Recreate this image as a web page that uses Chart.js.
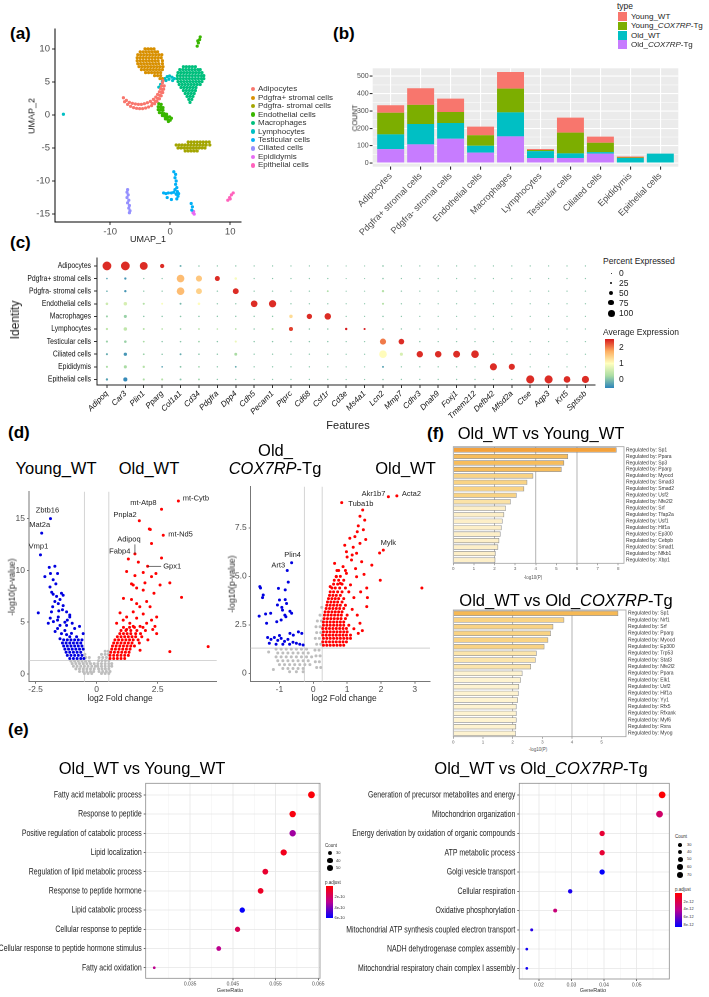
<!DOCTYPE html>
<html>
<head>
<meta charset="utf-8">
<script src="https://cdn.jsdelivr.net/npm/chart.js@4.4.1/dist/chart.umd.min.js"></script>
<style>
  html, body { margin: 0; padding: 0; background: #fff; }
  #fig { position: relative; width: 709px; height: 997px; overflow: hidden; font-family: "Liberation Sans", Arial, sans-serif; color: #000; }
  #fig canvas { position: absolute; }
  .t { position: absolute; white-space: nowrap; line-height: 1; }
</style>
</head>
<body>
<div id="fig"></div>
<script>
// ---- (a) UMAP ----
const clusterNames = ['Adipocytes', 'Pdgfra+ stromal cells', 'Pdgfra- stromal cells', 'Endothelial cells', 'Macrophages',
  'Lymphocytes', 'Testicular cells', 'Ciliated cells', 'Epididymis', 'Epithelial cells'];

const umapAdipocytes = [[-7.8,2.6],[-7.3,2.2],[-6.8,1.9],[-6.3,1.75],[-5.8,1.65],[-5.3,1.6],[-4.8,1.6],[-4.3,1.7],[-3.8,1.85],
  [-3.3,2.05],[-2.8,2.35],[-2.4,2.7],[-2.1,3.1],[-1.8,3.5],[-1.6,3.95],[-1.45,4.4],[-1.3,4.85],[-1.2,5.2],
  [-7.6,2.0],[-7.1,1.6],[-6.6,1.3],[-6.1,1.1],[-5.6,1.0],[-5.1,0.95],[-4.6,0.95],[-4.1,1.05],[-3.6,1.2],[-3.1,1.4],
  [-2.6,1.7],[-2.2,2.05],[-1.8,2.45],[-1.5,2.9],[-1.25,3.4],[-1.1,3.9],[-1.0,4.4],
  [-3.0,1.75],[-2.5,2.1],[-2.1,2.5],[-1.75,2.95],[-1.45,3.4],[-1.3,3.85]];
const umapPdgfraPosRows = [
  [10.0, [-4.2,-3.7,-3.2,-2.7]],
  [9.55, [-5.0,-4.5,-4.0,-3.5,-3.0,-2.5,-2.1]],
  [9.1, [-5.4,-4.9,-4.4,-3.9,-3.4,-2.9,-2.4,-1.9,-1.4]],
  [8.65, [-5.5,-5.0,-4.5,-4.0,-3.5,-3.0,-2.5,-2.0,-1.5]],
  [8.2, [-5.5,-5.0,-4.5,-4.0,-3.5,-3.0,-2.5,-2.0,-1.3]],
  [7.75, [-5.4,-4.9,-4.4,-3.9,-3.4,-2.9,-2.4,-1.9,-1.3]],
  [7.3, [-5.2,-4.7,-4.2,-3.7,-3.2,-2.7,-2.2,-1.7,-1.2]],
  [6.85, [-4.8,-4.3,-3.8,-3.3,-2.8,-2.3,-1.8,-1.3]],
  [6.4, [-4.1,-3.6,-3.1,-2.6,-2.1,-1.6]],
  [5.95, [-2.6,-2.1,-1.6]],
  [5.5, [-1.7,-1.3]]];
const umapPdgfraNegRows = [
  [-4.1, [3.0,3.5,4.0,4.5,5.0,5.5,6.0,6.5]],
  [-4.55, [1.0,1.5,2.0,2.5,3.0,3.5,4.0,4.5,5.0,5.5,6.0,6.6]],
  [-5.0, [1.3,1.8,2.3,2.8,3.3,3.8,4.3,4.8,5.3,5.8]],
  [-5.45, [2.5,3.0,3.5,4.0,4.5]]];
const umapEndothelial = [[-1.9,1.7],[-1.5,1.6],[-2.0,1.25],[-1.6,1.2],[-1.2,1.1],[-2.0,0.8],[-1.6,0.8],[-1.2,0.7],
  [-1.8,0.35],[-1.4,0.3],[-1.0,0.2],[-0.6,0.1],[-1.3,-0.1],[-0.9,-0.2],[-0.5,-0.3],[-0.1,-0.3],[-0.8,-0.6],[-0.4,-0.7],
  [0.0,-0.8],[0.2,-0.5],[-0.3,-1.0],[4.5,10.4],[4.7,10.9],[4.9,11.4],[5.0,11.8],[4.6,11.2]];
const umapMacrophageRows = [
  [7.3, [2.2,2.7,3.2,3.7,4.2]],
  [6.85, [1.6,2.1,2.6,3.1,3.6,4.1,4.6,5.0]],
  [6.4, [1.3,1.8,2.3,2.8,3.3,3.8,4.3,4.8,5.3]],
  [5.95, [1.2,1.7,2.2,2.7,3.2,3.7,4.2,4.7,5.2,5.6]],
  [5.5, [1.2,1.7,2.2,2.7,3.2,3.7,4.2,4.7,5.2,5.6]],
  [5.05, [1.3,1.8,2.3,2.8,3.3,3.8,4.3,4.8,5.3]],
  [4.6, [1.5,2.0,2.5,3.0,3.5,4.0,4.5,5.0]],
  [4.15, [1.8,2.3,2.8,3.3,3.8,4.3]],
  [3.7, [2.2,2.7,3.2,3.7,4.2]],
  [3.25, [2.5,3.0,3.5,4.0]],
  [2.8, [2.8,3.3,3.8]],
  [2.35, [3.1,3.6]],
  [1.9, [3.3]]];
const umapLymphocytes = [[-1.3,5.1],[-0.9,5.5],[-0.5,5.8],[-0.1,5.9],[0.3,5.7],[0.7,5.5],[-0.7,5.2],[-0.2,5.4],[0.4,5.2],
  [-1.9,4.2],[-1.6,4.6],[-17.8,0.1]];
const umapTesticular = [[0.6,-8.6],[0.9,-9.0],[0.8,-9.5],[1.0,-10.0],[0.9,-10.5],[1.1,-11.0],[0.8,-11.3],[1.2,-11.6],
  [1.0,-12.0],[1.3,-12.3],[1.1,-12.7],[0.6,-11.7],[0.2,-11.8],[-0.3,-11.8],[-0.7,-11.9],[-1.1,-11.8],[1.4,-11.9],
  [3.5,-13.4],[3.7,-13.9],[3.6,-14.4],[-0.5,-12.5],[0.2,-12.8]];
const umapCiliated = [[-7.1,-11.3],[-7.2,-11.7],[-7.0,-12.1],[-7.2,-12.5],[-6.9,-12.9],[-7.1,-13.3],[-6.8,-13.7],
  [-6.9,-14.1],[-6.7,-14.5],[-6.8,-14.8]];
const umapEpididymis = [[3.8,-14.8],[4.0,-15.0],[3.9,-14.6]];
const umapEpithelial = [[9.6,-12.9],[9.9,-12.5],[10.2,-12.1],[10.5,-11.8],[10.0,-12.7]];

// ---- (b) cell counts per type ----
const countOldCox = [80, 108, 140, 60, 154, 29, 29, 54, 3, 0];
const countOldWT = [85, 117, 91, 40, 138, 40, 27, 9, 26, 54];
const countYoungCox = [125, 110, 63, 60, 137, 6, 119, 54, 3, 0];
const countYoungWT = [43, 96, 77, 50, 96, 6, 87, 35, 6, 0];
const countTicks = [0, 100, 200, 300, 400, 500];

// ---- (c) dot plot ----
const dotGenes = ['Adipoq','Car3','Plin1','Pparg','Col1a1','Cd34','Pdgfra','Dpp4','Cdh5','Pecam1','Ptprc','Cd68','Csf1r',
  'Cd3e','Ms4a1','Lcn2','Mmp7','Cdhr3','Dnah9','Foxj1','Tmem212','Defb42','Mfsd2a','Ctse','Aqp3','Krt5','Sptssb'];
const dotPct = [
  [100,100,88,40,10,4,2,3,1,1,1,1,1,0,0,6,1,1,1,1,1,1,1,1,1,1,1],
  [6,15,3,2,85,65,50,18,2,2,2,2,3,0,0,5,2,1,1,1,1,1,1,1,1,1,1],
  [5,15,3,2,85,62,3,62,2,2,2,2,8,0,0,15,2,1,1,1,1,1,1,1,1,1,1],
  [18,30,12,10,10,18,3,3,72,80,3,2,3,0,0,12,2,1,1,1,1,1,1,1,1,1,1],
  [12,25,5,4,6,5,3,3,3,3,30,55,70,2,1,5,2,1,1,1,1,1,1,1,1,1,1],
  [15,30,10,6,6,8,5,6,4,10,38,4,4,16,12,5,3,1,1,1,1,1,1,1,1,1,1],
  [12,18,8,3,5,6,3,12,3,3,3,3,3,2,1,65,58,3,2,2,2,2,2,1,1,1,1],
  [12,28,8,4,10,5,3,22,2,2,2,2,2,1,1,85,25,68,70,75,85,2,2,1,1,1,1],
  [12,25,15,6,8,6,3,8,2,2,2,2,2,1,1,10,2,2,2,2,2,78,65,1,1,1,1],
  [15,38,12,12,10,8,3,3,2,2,2,2,2,1,1,4,2,2,2,2,2,2,2,90,90,72,78]];
const dotAvg = [
  [2.4,2.4,2.4,2.4,-0.2,0,0,0,0,0,0,0,0,0,0,0,0,0,0,0,0,0,0,0,0,0,0],
  [-0.3,-0.4,0,0,1.6,1.5,2.4,0.9,0,0,0,0,0,0,0,0,0,0,0,0,0,0,0,0,0,0,0],
  [-0.2,-0.4,0,0,1.6,1.4,0,2.4,0,0,0,0,0.2,0,0,0.3,0,0,0,0,0,0,0,0,0,0,0],
  [0.5,0.6,0.3,0.9,-0.1,1.0,0,0,2.4,2.4,0,0,0,0,0,0.3,0,0,0,0,0,0,0,0,0,0,0],
  [0.1,0.1,0,0,0,0,0,0,0,0,1.3,2.4,2.4,0,0,0,0,0,0,0,0,0,0,0,0,0,0],
  [0.4,0.4,0.3,0.3,0.1,0.3,0.3,0.3,0,0.3,2.3,0,0,2.5,2.5,0,0,0,0,0,0,0,0,0,0,0,0],
  [0.1,0.1,0.2,0,0,0.1,0,0.8,0,0,0,0,0,0,0,2.0,2.4,0,0,0,0,0,0,0,0,0,0],
  [-0.2,-0.4,0.1,0,-0.2,0,0,0.2,0,0,0,0,0,0,0,1.0,0.6,2.4,2.4,2.4,2.4,0,0,0,0,0,0],
  [0.2,0.2,0.3,-0.3,0,0.1,0,-0.2,0,0,0,0,0,0,0,-0.3,0,0,0,0,0,2.4,2.4,0,0,0,0],
  [-0.3,-0.5,0.2,0.3,0.0,0.1,0,0,0,0,0,0,0,0,0,0,0,0,0,0,0,0,0,2.4,2.4,2.4,2.4]];

// ---- (d) volcano: Old_WT vs Young_WT ----
const volcYoungBlue = [[-1.89,15.0],[-2.25,13.6],[-2.3,11.5],[-1.94,10.3],[-1.71,10.4],[-2.12,9.4],[-1.89,9.7],[-1.6,9.7],
  [-1.78,9.1],[-1.67,8.7],[-1.91,8.4],[-1.84,7.9],[-1.44,7.8],[-1.78,7.7],[-1.64,7.5],[-1.5,7.2],[-1.37,7.6],[-1.71,7.0],
  [-1.57,6.8],[-1.8,6.5],[-1.37,6.6],[-2.39,5.9],[-1.23,6.0],[-1.1,5.5],[-1.98,4.9],[-1.77,5.06],[-1.57,5.5],[-1.5,4.7],
  [-1.23,4.7],[-1.1,5.7],[-1.7,4.1],[-1.44,3.9],[-1.23,3.8],[-1.03,3.93],[-0.82,3.6],[-0.55,3.9],[-1.6,4.4],[-1.3,4.2],
  [-0.9,4.4],[-1.1,3.6],[-1.5,3.4],[-0.7,4.6],[-1.9,5.4],[-1.4,6.2],[-1.2,5.2],[-1.85,6.0],[-1.55,6.1],[-1.3,5.0],[-1.0,4.9],[-1.6,5.2]];
const volcYoungBlueRows = [
  [3.3, [-1.35,-1.2,-1.05,-0.9,-0.75,-0.6]], [3.0, [-1.4,-1.25,-1.1,-0.95,-0.8,-0.65]],
  [2.7, [-1.35,-1.2,-1.05,-0.9,-0.75,-0.6]], [2.4, [-1.3,-1.15,-1.0,-0.85,-0.7,-0.55]],
  [2.1, [-1.25,-1.1,-0.95,-0.8,-0.65]], [1.8, [-1.2,-1.05,-0.9,-0.75,-0.6]], [1.5, [-1.1,-0.95,-0.8,-0.65,-0.52]]];
const volcYoungRed = [[3.35,16.7],[2.66,15.9],[1.75,14.8],[2.73,13.4],[1.57,11.6],[1.3,11.1],[2.09,10.4],[2.16,14.0],
  [2.2,13.95],[2.25,12.6],[2.66,11.2],[1.71,10.8],[1.23,9.9],[1.57,9.5],[1.91,9.8],[2.25,9.4],[2.43,9.7],[3.0,8.8],[1.43,8.7],
  [1.64,8.3],[1.91,8.1],[3.48,7.4],[2.05,7.0],[2.35,7.8],[2.6,8.6],[1.1,7.3],[1.43,7.2],[1.77,6.5],[0.96,5.9],[1.5,6.0],
  [1.91,5.8],[1.23,5.5],[1.64,6.8],[2.19,6.5],[2.46,5.5],[1.78,2.3],[3.0,2.16],[4.57,2.65],[1.98,8.8],[1.5,8.6],
  [0.82,4.9],[1.09,5.2],[1.36,4.9],[1.64,5.4],[1.78,4.6],[2.05,4.9],[2.25,5.2],[2.39,4.6],[2.46,3.9],[1.23,4.3],
  [1.5,4.6],[2.0,4.2],[1.85,3.6],[2.1,3.3],[1.75,3.0],[2.3,4.3]];
const volcYoungRedRows = [
  [1.5, [0.55,0.7,0.85,1.0,1.15]], [1.8, [0.55,0.7,0.85,1.0,1.15,1.3]], [2.1, [0.58,0.73,0.88,1.03,1.18,1.33]],
  [2.4, [0.62,0.77,0.92,1.07,1.22,1.37]], [2.7, [0.65,0.8,0.95,1.1,1.25,1.4,1.55]], [3.0, [0.7,0.85,1.0,1.15,1.3,1.45]],
  [3.3, [0.75,0.9,1.05,1.2,1.35,1.5,1.7]], [3.6, [0.85,1.0,1.15,1.3,1.45,1.6]], [3.9, [0.95,1.1,1.25,1.4,1.6,1.8]],
  [4.2, [1.0,1.2,1.4,1.65]], [4.5, [1.1,1.35,1.55,1.9]]];
const volcYoungGrayRows = [
  [1.25, [-1.05,-0.9,-0.75,-0.6,-0.45,-0.3]], [1.0, [-1.0,-0.85,-0.7,-0.55,-0.4,-0.25,-0.1]],
  [0.75, [-0.95,-0.8,-0.65,-0.5,-0.35,-0.2,-0.05]], [0.5, [-0.85,-0.7,-0.55,-0.4,-0.25,-0.1]],
  [0.25, [-0.7,-0.55,-0.4,-0.25,-0.12]], [0.05, [-0.5,-0.35,-0.2]], [1.6, [-0.45,-0.3]], [1.9, [-0.48]],
  [2.2, [0.35,0.48]], [1.9, [0.2,0.35,0.48]], [1.6, [0.1,0.25,0.4]], [1.3, [0.08,0.22,0.36,0.5]],
  [1.0, [0.05,0.2,0.35,0.5,0.62]], [0.75, [0.05,0.2,0.35,0.5,0.62]], [0.5, [0.08,0.22,0.36,0.5]],
  [0.25, [0.1,0.25,0.4,0.55]], [0.05, [0.2,0.35,0.5]]];
const volcYoungLabels = ['Zbtb16', 'Mat2a', 'Vmp1', 'mt-Cytb', 'mt-Atp8', 'Pnpla2', 'mt-Nd5', 'Adipoq', 'Fabp4', 'Gpx1'];
const volcYoungLabelX = [-1.89, -2.25, -2.3, 3.35, 2.66, 1.75, 2.73, 1.57, 1.3, 2.09];
const volcYoungLabelY = [15.0, 13.6, 11.5, 16.7, 15.9, 14.8, 13.4, 11.6, 11.1, 10.4];

// ---- (d) volcano: Old_COX7RP-Tg vs Old_WT ----
const volcOldBlue = [[-0.64,5.7],[-0.77,5.3],[-0.74,4.7],[-1.56,4.4],[-1.5,3.9],[-0.83,4.3],[-0.83,3.8],[-0.79,3.6],
  [-0.93,3.4],[-0.69,3.2],[-0.64,3.1],[-1.26,3.1],[-1.58,4.47],[-1.48,4.04],[-1.03,4.38],[-1.0,3.78],[-1.06,3.52],
  [-0.91,3.26],[-0.84,3.0],[-0.81,2.92],[-1.6,2.95],[-1.41,3.06],[-0.95,2.75],[-1.08,2.66],[-1.38,2.58],[-0.69,2.06],
  [-0.59,1.97],[-0.44,2.14],[-0.34,2.06],[-0.3,1.46],[-1.35,1.85],[-1.25,1.75],[-1.15,1.85],[-1.05,1.7],[-0.95,1.8],
  [-0.85,1.65],[-0.75,1.75],[-1.3,1.55],[-1.1,1.5],[-0.9,1.5],[-1.0,1.95],[-0.7,1.5],[-0.6,1.6],[-0.5,1.55],[-0.4,1.5]];
const volcOldRed = [[2.22,9.1],[2.47,9.15],[0.84,8.8],[2.07,6.35],[1.46,8.42],[1.38,8.1],[1.52,7.9],[1.33,7.6],[1.48,7.4],
  [1.23,7.05],[1.08,6.96],[0.93,6.6],[1.18,6.5],[1.38,6.7],[0.98,6.27],[1.28,6.19],[0.63,5.67],[0.88,5.5],[1.13,5.84],
  [1.43,5.75],[1.73,5.58],[1.96,6.2],[1.98,4.8],[1.58,4.4],[3.21,4.4],[0.68,4.98],[0.98,5.15],[1.28,4.98],[0.5,4.47],
  [0.8,4.64],[1.1,4.56],[1.38,2.58],[1.33,2.06],[1.58,3.44],[1.2,3.9],[1.05,4.2],[1.25,5.4],[1.5,5.1],[1.4,4.2],
  [1.15,3.3],[1.3,3.0],[1.2,2.3],[1.45,2.2],[1.1,1.8],[1.6,3.9],[1.0,6.0],[1.15,6.1],[0.75,5.3],[1.55,6.9],[1.3,7.3]];
const volcOldRedRows = [
  [1.45, [0.3,0.4,0.5,0.6,0.7,0.8,0.9]], [1.62, [0.28,0.38,0.48,0.58,0.68,0.78,0.88,0.98]],
  [1.8, [0.3,0.4,0.5,0.6,0.7,0.8,0.9,1.0]], [1.97, [0.28,0.38,0.48,0.58,0.68,0.78,0.88,0.98,1.1]],
  [2.14, [0.3,0.4,0.5,0.6,0.7,0.8,0.9,1.0]], [2.31, [0.28,0.38,0.48,0.58,0.68,0.78,0.88,0.98]],
  [2.48, [0.3,0.4,0.5,0.6,0.7,0.8,0.9,1.05]], [2.65, [0.3,0.4,0.5,0.6,0.7,0.8,0.9]],
  [2.82, [0.32,0.42,0.52,0.62,0.72,0.82,0.95]], [3.0, [0.33,0.43,0.53,0.63,0.73,0.83,1.0]],
  [3.17, [0.35,0.45,0.55,0.65,0.75,0.85]], [3.34, [0.38,0.48,0.58,0.68,0.78,0.9]],
  [3.51, [0.4,0.5,0.6,0.7,0.8,0.95]], [3.68, [0.42,0.52,0.62,0.72,0.85]], [3.85, [0.45,0.55,0.65,0.75,0.9]],
  [4.02, [0.48,0.58,0.68,0.8]], [4.2, [0.5,0.6,0.72,0.85]], [4.4, [0.55,0.65,0.78,0.95]], [4.6, [0.6,0.72,0.85]],
  [4.8, [0.62,0.75,0.9]], [5.0, [0.68,0.8]], [5.3, [0.7,0.95]]];
const volcOldGrayRows = [
  [1.25, [-1.1,-0.95,-0.8,-0.65,-0.5,-0.35,-0.2]], [1.05, [-1.05,-0.9,-0.75,-0.6,-0.45,-0.3,-0.15]],
  [0.85, [-1.1,-0.95,-0.8,-0.65,-0.5,-0.35,-0.2,-0.05]], [0.65, [-1.05,-0.9,-0.75,-0.6,-0.45,-0.3,-0.15]],
  [0.45, [-1.0,-0.85,-0.7,-0.55,-0.4,-0.25,-0.1]], [0.25, [-0.9,-0.75,-0.6,-0.45,-0.3]], [0.08, [-0.7,-0.5,-0.3]],
  [1.1, [-1.32]], [0.2, [-1.18]], [3.4, [0.25]], [3.0, [0.2]], [2.7, [0.12,0.24]], [2.4, [0.08,0.2]], [2.1, [0.1,0.22]],
  [1.8, [0.06,0.18]], [1.5, [0.1,0.22]], [1.2, [0.05,0.17]], [0.9, [0.08,0.2]], [0.6, [0.06,0.18]], [0.3, [0.1,0.22]]];
const volcOldLabels = ['Akr1b7', 'Acta2', 'Tuba1b', 'Mylk', 'Plin4', 'Art3'];
const volcOldLabelX = [2.22, 2.47, 0.84, 2.07, -0.64, -0.77];
const volcOldLabelY = [9.1, 9.15, 8.8, 6.35, 5.7, 5.3];

// ---- (f) Metascape TF enrichment ----
const tfTopNames = ['Sp1','Ppara','Sp3','Pparg','Myocd','Smad3','Smad2','Usf2','Nfe2l2','Srf','Tfap2a','Usf1','Hif1a',
  'Ep300','Cebpb','Smad1','Nfkb1','Xbp1'];
const tfTopVals = [7.92,5.57,5.38,5.25,3.88,3.59,3.44,3.07,2.79,2.55,2.47,2.39,2.34,2.29,2.23,2.18,2.05,2.04];
const tfBotNames = ['Sp1','Nrf1','Srf','Pparg','Myocd','Ep300','Trp53','Stat3','Nfe2l2','Ppara','Elk1','Usf2','Hif1a',
  'Yy1','Rfx5','Rfxank','Myf6','Rxra','Myog'];
const tfBotVals = [5.56,3.74,3.37,3.29,3.20,3.07,2.81,2.78,2.62,2.33,2.28,2.22,2.20,2.18,2.13,2.13,2.13,2.12,2.11];

// ---- (e) GO enrichment ----
const goLeftTerms = ['Fatty acid metabolic process','Response to peptide','Positive regulation of catabolic process',
  'Lipid localization','Regulation of lipid metabolic process','Response to peptide hormone','Lipid catabolic process',
  'Cellular response to peptide','Cellular response to peptide hormone stimulus','Fatty acid oxidation'];
const goLeftRatio = [0.0634,0.0590,0.0590,0.0569,0.0526,0.0515,0.0472,0.0461,0.0417,0.0266];
const goLeftCount = [55,51,51,49,45,44,41,40,36,23];
const goLeftPadj = [0.2e-10,0.3e-10,3.5e-10,0.6e-10,1.0e-10,0.8e-10,6.0e-10,1.8e-10,3.0e-10,3.0e-10];
const goRightTerms = ['Generation of precursor metabolites and energy','Mitochondrion organization',
  'Energy derivation by oxidation of organic compounds','ATP metabolic process','Golgi vesicle transport',
  'Cellular respiration','Oxidative phosphorylation','Mitochondrial ATP synthesis coupled electron transport',
  'NADH dehydrogenase complex assembly','Mitochondrial respiratory chain complex I assembly'];
const goRightRatio = [0.0578,0.0570,0.0394,0.0394,0.0394,0.0296,0.0250,0.0178,0.0163,0.0163];
const goRightCount = [71,70,48,48,48,36,31,22,20,20];
const goRightPadj = [0.1e-12,3.0e-12,1.5e-12,1.5e-12,8.3e-12,7.8e-12,3.5e-12,7.5e-12,8.0e-12,8.0e-12];

// ================= drawing =================
const fig = document.getElementById('fig');
const SANS = '"Liberation Sans", Arial, sans-serif';
Chart.defaults.font.family = SANS;
Chart.defaults.animation = false;
Chart.defaults.events = [];
Chart.defaults.plugins.legend.display = false;
Chart.defaults.plugins.tooltip.enabled = false;

const clusterColors = ['#F8766D','#D89000','#A3A500','#39B600','#00BF7D','#00BFC4','#00B0F6','#9590FF','#E76BF3','#FF62BC'];

function txt(s, x, y, o = {}) {
  const d = document.createElement('div');
  d.className = 't';
  d.innerHTML = s;
  d.style.left = x + 'px';
  d.style.top = y + 'px';
  d.style.fontSize = (o.size || 10) + 'px';
  if (o.bold) d.style.fontWeight = 'bold';
  if (o.color) d.style.color = o.color;
  const ax = o.anchor === 'left' ? '0' : o.anchor === 'right' ? '-100%' : '-50%';
  d.style.transform = `translate(${ax},-50%)` + (o.rot ? ` rotate(${o.rot}deg)` : '');
  fig.appendChild(d);
}
function blob(x, y, w, h, css) {
  const d = document.createElement('div');
  d.style.cssText = `position:absolute;left:${x}px;top:${y}px;width:${w}px;height:${h}px;` + css;
  fig.appendChild(d);
}
function legendDot(x, y, r, color) { blob(x - r, y - r, 2 * r, 2 * r, `border-radius:50%;background:${color}`); }

function rows(list) {
  const out = [];
  list.forEach(([y, xs]) => xs.forEach(x => out.push([x, y])));
  return out;
}
const xy = pts => pts.map(p => ({ x: p[0], y: p[1] }));

function hex(c) { return [1, 3, 5].map(i => parseInt(c.slice(i, i + 2), 16)); }
function ramp(stops, t) {
  t = Math.max(0, Math.min(1, t));
  for (let i = 1; i < stops.length; i++) {
    if (t <= stops[i][0]) {
      const [t0, c0] = stops[i - 1], [t1, c1] = stops[i];
      const f = (t - t0) / (t1 - t0), a = hex(c0), b = hex(c1);
      return `rgb(${a.map((v, k) => Math.round(v + (b[k] - v) * f)).join(',')})`;
    }
  }
  return stops[stops.length - 1][1];
}
const spectral = [[0, '#2B83BA'], [0.25, '#ABDDA4'], [0.5, '#FFFFBF'], [0.75, '#FDAE61'], [1, '#D7191C']];
const redBlue = [[0, '#FF0000'], [0.5, '#BC0090'], [1, '#0000FF']];

// places a chart so that its plot area lands on the given page rectangle
function place(box, plot, cfg) {
  const cv = document.createElement('canvas');
  const [x, y, w, h] = box;
  cv.style.left = x + 'px'; cv.style.top = y + 'px';
  cv.width = w; cv.height = h;
  cv.style.width = w + 'px'; cv.style.height = h + 'px';
  fig.appendChild(cv);
  const gap = { left: plot[0] - x, top: plot[1] - y, right: x + w - plot[2], bottom: y + h - plot[3] };
  const used = {};
  for (const [id, sc] of Object.entries(cfg.options.scales)) {
    const pos = sc.position || (id === 'x' ? 'bottom' : 'left');
    sc.position = pos;
    used[pos] = true;
    sc.afterFit = s => {
      if (pos === 'top' || pos === 'bottom') s.height = gap[pos]; else s.width = gap[pos];
      s.paddingLeft = s.paddingRight = s.paddingTop = s.paddingBottom = 0;
    };
  }
  cfg.options.layout = { padding: {
    left: used.left ? 0 : gap.left, right: used.right ? 0 : gap.right,
    top: used.top ? 0 : gap.top, bottom: used.bottom ? 0 : gap.bottom } };
  cfg.options.responsive = false;
  cfg.options.maintainAspectRatio = false;
  cfg.options.devicePixelRatio = 2;
  return new Chart(cv, cfg);
}

function linAxis(min, max, tickVals, o = {}) {
  return {
    type: 'linear', min, max, position: o.position, reverse: !!o.reverse, offset: false, stacked: !!o.stacked,
    afterBuildTicks: s => { s.ticks = tickVals.map(v => ({ value: v })); },
    ticks: {
      autoSkip: false, minRotation: o.rot || 0, maxRotation: o.rot || 0, padding: o.pad ?? 2,
      color: o.color || '#4D4D4D', font: { size: o.size || 8.5, style: o.italic ? 'italic' : 'normal' },
      callback: o.hideLabels ? (() => '') : o.labels ? (v => o.labels[v]) : (o.fmt || (v => String(v)))
    },
    grid: { display: true, color: o.gridColor || 'rgba(0,0,0,0)', lineWidth: o.gridWidth || 1,
      drawTicks: o.tickLen !== 0, tickLength: o.tickLen ?? 3, tickColor: o.tickColor || '#333', offset: false },
    border: { display: o.axisLine !== false, color: o.axisColor || '#000', width: o.axisWidth || 1 }
  };
}

// background, minor grid, reference lines and frame
function panelPlugin(o) {
  return {
    id: 'panel',
    beforeDraw(chart) {
      const { ctx, chartArea: a, scales } = chart;
      ctx.save();
      if (o.bg) { ctx.fillStyle = o.bg; ctx.fillRect(a.left, a.top, a.width, a.height); }
      ctx.strokeStyle = o.minorColor || '#fff';
      ctx.lineWidth = o.minorWidth || 0.5;
      (o.minorX || []).forEach(v => {
        const p = scales.x.getPixelForValue(v);
        ctx.beginPath(); ctx.moveTo(p, a.top); ctx.lineTo(p, a.bottom); ctx.stroke();
      });
      (o.minorY || []).forEach(v => {
        const p = scales.y.getPixelForValue(v);
        ctx.beginPath(); ctx.moveTo(a.left, p); ctx.lineTo(a.right, p); ctx.stroke();
      });
      ctx.restore();
    },
    beforeDatasetsDraw(chart) {
      const { ctx, chartArea: a, scales } = chart;
      ctx.save();
      ctx.strokeStyle = o.refColor || '#C8C8C8';
      ctx.lineWidth = o.refWidth || 0.8;
      (o.vlines || []).forEach(v => {
        const p = scales.x.getPixelForValue(v);
        ctx.beginPath(); ctx.moveTo(p, a.top); ctx.lineTo(p, a.bottom); ctx.stroke();
      });
      (o.hlines || []).forEach(v => {
        const p = scales.y.getPixelForValue(v);
        ctx.beginPath(); ctx.moveTo(a.left, p); ctx.lineTo(a.right, p); ctx.stroke();
      });
      ctx.restore();
    },
    afterDraw(chart) {
      if (!o.frame) return;
      const { ctx, chartArea: a } = chart;
      ctx.save();
      ctx.strokeStyle = o.frame; ctx.lineWidth = o.frameWidth || 1;
      ctx.strokeRect(a.left, a.top, a.width, a.height);
      ctx.restore();
    }
  };
}

// condensed category labels on the left of the y axis
function rowLabelPlugin(labels, size, squeeze, gap, color) {
  return {
    id: 'rowLabels',
    afterDraw(chart) {
      const { ctx, chartArea: a, scales } = chart;
      ctx.save();
      ctx.font = `${size}px ${SANS}`; ctx.fillStyle = color;
      ctx.textAlign = 'right'; ctx.textBaseline = 'middle';
      labels.forEach((l, i) => {
        ctx.save();
        ctx.translate(a.left - gap, scales.y.getPixelForValue(i));
        ctx.scale(squeeze, 1);
        ctx.fillText(l, 0, 0);
        ctx.restore();
      });
      ctx.restore();
    }
  };
}

function labelPlugin(names, xs, ys, offsets, font) {
  return {
    id: 'ptLabels',
    afterDatasetsDraw(chart) {
      const { ctx, scales } = chart;
      ctx.save();
      ctx.font = font; ctx.fillStyle = '#222'; ctx.strokeStyle = '#333'; ctx.lineWidth = 0.7;
      ctx.textBaseline = 'middle';
      names.forEach((name, i) => {
        const px = scales.x.getPixelForValue(xs[i]), py = scales.y.getPixelForValue(ys[i]);
        const [dx, dy, align, lx, ly] = offsets[i];
        if (lx !== undefined) { ctx.beginPath(); ctx.moveTo(px, py); ctx.lineTo(px + lx, py + ly); ctx.stroke(); }
        ctx.textAlign = align;
        ctx.fillText(name, px + dx, py + dy);
      });
      ctx.restore();
    }
  };
}

// ---------- panel labels ----------
txt('(a)', 10, 33, { size: 17, bold: true, anchor: 'left' });
txt('(b)', 333, 33, { size: 17, bold: true, anchor: 'left' });
txt('(c)', 10, 242, { size: 17, bold: true, anchor: 'left' });
txt('(d)', 8, 432, { size: 17, bold: true, anchor: 'left' });
txt('(f)', 427, 433, { size: 17, bold: true, anchor: 'left' });
txt('(e)', 8, 729, { size: 17, bold: true, anchor: 'left' });

// ---------- (a) UMAP ----------
const umapSets = [umapAdipocytes, rows(umapPdgfraPosRows), rows(umapPdgfraNegRows), umapEndothelial,
  rows(umapMacrophageRows), umapLymphocytes, umapTesticular, umapCiliated, umapEpididymis, umapEpithelial];
place([20, 20, 232, 226], [55, 29, 241, 222], {
  type: 'scatter',
  data: { datasets: umapSets.map((pts, i) => ({
    data: xy(pts), backgroundColor: clusterColors[i], pointRadius: 1.6, borderWidth: 0 })) },
  options: { scales: {
    x: linAxis(-19.2, 11.8, [-10, 0, 10], { size: 9.5, pad: 1 }),
    y: linAxis(-16.2, 13, [-15, -10, -5, 0, 5, 10], { size: 9.5 })
  } }
});
txt('UMAP_2', 32, 116, { size: 9, rot: -90, color: '#222' });
txt('UMAP_1', 148, 239, { size: 9, color: '#222' });
clusterNames.forEach((n, i) => {
  legendDot(252.7, 89.3 + i * 8.45, 2.2, clusterColors[i]);
  txt(n, 258, 89.3 + i * 8.45, { size: 8, anchor: 'left', color: '#333' });
});

// ---------- (b) stacked counts ----------
const stackSets = [
  [countOldCox, '#C77CFF'], [countOldWT, '#00BFC4'], [countYoungCox, '#7CAE00'], [countYoungWT, '#F8766D']];
place([300, 55, 405, 185], [372.7, 68.3, 678.3, 166.7], {
  type: 'bar',
  data: { datasets: stackSets.map(([vals, col]) => ({
    data: vals.map((v, i) => ({ x: i, y: v })), backgroundColor: col, borderWidth: 0,
    barPercentage: 0.9, categoryPercentage: 1.0 })) },
  options: {
    scales: {
      x: linAxis(-0.6, 9.6, clusterNames.map((_, i) => i), { labels: clusterNames, rot: 45, size: 9,
        stacked: true, gridColor: '#fff', gridWidth: 1.1, axisLine: false, pad: 1 }),
      y: linAxis(-21, 546, countTicks, { size: 7, stacked: true, gridColor: '#fff', gridWidth: 1.1, axisLine: false, pad: 1 })
    }
  },
  plugins: [panelPlugin({ bg: '#EBEBEB', minorY: [50, 150, 250, 350, 450], minorColor: '#fff', minorWidth: 0.5 })]
});
txt('COUNT', 355, 118, { size: 7.5, rot: -90, color: '#222' });
txt('type', 617, 5.5, { size: 8.5, anchor: 'left', color: '#222' });
[['Young_WT', '#F8766D'], ['Young_<i>COX7RP</i>-Tg', '#7CAE00'], ['Old_WT', '#00BFC4'], ['Old_<i>COX7RP</i>-Tg', '#C77CFF']]
  .forEach(([n, c], i) => {
    blob(617.7, 12.4 + i * 9.35, 9, 8.6, `background:${c}`);
    txt(n, 631, 16.7 + i * 9.4, { size: 8, anchor: 'left', color: '#222' });
  });

// ---------- (c) dot plot ----------
const dotPts = [], dotCols = [];
dotPct.forEach((row, i) => row.forEach((p, j) => {
  dotPts.push({ x: j, y: i, r: 0.6 + 3.8 * p / 100 });
  dotCols.push(ramp(spectral, (dotAvg[i][j] + 0.56) / 3.06));
}));
place([0, 250, 600, 170], [97, 258, 595, 385], {
  type: 'bubble',
  data: { datasets: [{ data: dotPts, backgroundColor: dotCols, borderWidth: 0, clip: false }] },
  options: { scales: {
    x: linAxis(-0.54, 26.52, dotGenes.map((_, i) => i), { labels: dotGenes, rot: 45, italic: true, size: 8,
      color: '#111', pad: 1, axisColor: '#222' }),
    y: linAxis(-0.63, 9.44, clusterNames.map((_, i) => i), { hideLabels: true, reverse: true, axisColor: '#222' })
  } },
  plugins: [rowLabelPlugin(clusterNames, 8, 0.85, 6, '#111')]
});
txt('Identity', 15, 320, { size: 12, rot: -90, color: '#222' });
txt('Features', 348, 425, { size: 11, color: '#222' });
txt('Percent Expressed', 603, 261, { size: 8.5, anchor: 'left', color: '#222' });
[['0', 0], ['25', 25], ['50', 50], ['75', 75], ['100', 100]].forEach(([l, p], i) => {
  const yy = [273, 283, 293, 302.6, 313][i];
  legendDot(611, yy, 0.5 + 3.0 * p / 100, '#000');
  txt(l, 619, yy, { size: 8.5, anchor: 'left', color: '#222' });
});
txt('Average Expression', 603, 332, { size: 8.5, anchor: 'left', color: '#222' });
blob(605, 339, 9, 49, 'background:linear-gradient(to top,#2B83BA 0%,#ABDDA4 25%,#FFFFBF 50%,#FDAE61 75%,#D7191C 100%)');
[['2', 347], ['1', 363], ['0', 379]].forEach(([l, yy]) => txt(l, 619, yy, { size: 8.5, anchor: 'left', color: '#222' }));

// ---------- (d) volcano plots ----------
function volcano(box, plot, xr, yr, xt, yt, yfmt, vl, gray, blue, red, labels) {
  place(box, plot, {
    type: 'scatter',
    data: { datasets: [
      { data: xy(red), backgroundColor: '#FF0000', pointRadius: 1.5, borderWidth: 0 },
      { data: xy(blue), backgroundColor: '#0000E0', pointRadius: 1.5, borderWidth: 0 },
      { data: xy(gray), backgroundColor: '#BEBEBE', pointRadius: 1.5, borderWidth: 0 }] },
    options: { scales: {
      x: linAxis(xr[0], xr[1], xt, { size: 8.5, pad: 1, axisColor: '#777', tickColor: '#777', tickLen: 2 }),
      y: linAxis(yr[0], yr[1], yt, { size: 8.5, fmt: yfmt, axisColor: '#777', tickColor: '#777', tickLen: 2 })
    } },
    plugins: [panelPlugin({ vlines: vl, hlines: [1.3], refColor: '#CFCFCF', refWidth: 0.9 }), labels]
  });
}
volcano([0, 485, 222, 210], [29, 491.7, 216.7, 681.7], [-2.77, 4.92], [-0.74, 17.6], [-2.5, 0, 2.5], [0, 5, 10, 15],
  v => String(v), [-0.5, 0.5], rows(volcYoungGrayRows), volcYoungBlue.concat(rows(volcYoungBlueRows)),
  volcYoungRed.concat(rows(volcYoungRedRows)),
  labelPlugin(volcYoungLabels, volcYoungLabelX, volcYoungLabelY, [
    [-3, -8.3, 'center'], [-2, -8.3, 'center'], [-2, -8.7, 'center'], [4.4, -2.4, 'left'], [-5, -6.3, 'right'],
    [-2.6, -5.7, 'right'], [5, -1, 'left'], [-6, -14.3, 'center', 0, -9.5], [-8.6, -7.7, 'center'],
    [15.6, 0, 'left', 13.5, 0]], '7.5px ' + SANS));
volcano([222, 480, 212, 215], [250.7, 486.7, 430, 681.7], [-1.85, 3.45], [-0.43, 9.62], [-1, 0, 1, 2, 3],
  [0, 2.5, 5, 7.5], v => (v === 0 ? '0' : v.toFixed(1)), [-0.263, 0.263], rows(volcOldGrayRows), volcOldBlue,
  volcOldRed.concat(rows(volcOldRedRows)),
  labelPlugin(volcOldLabels, volcOldLabelX, volcOldLabelY, [
    [-3, -3, 'right'], [5, -2, 'left'], [6.6, 1.3, 'left'], [5, -7.3, 'center'], [1, -7.7, 'center'],
    [-9, -5, 'center']], '7.5px ' + SANS));
txt('Young_WT', 56, 468, { size: 16.5 });
txt('Old_WT', 149, 468, { size: 16.5 });
txt('Old_', 275.5, 450, { size: 16.5 });
txt('<i>COX7RP</i>-Tg', 275, 468, { size: 16.5 });
txt('Old_WT', 405.5, 468, { size: 16.5 });
txt('-log10(p-value)', 12, 587, { size: 8.5, rot: -90, color: '#222' });
txt('log2 Fold change', 120, 698, { size: 8.5, color: '#222' });
txt('-log10(p-value)', 232, 584, { size: 8.5, rot: -90, color: '#222' });
txt('log2 Fold change', 344, 698, { size: 8.5, color: '#222' });

// ---------- (f) TF bars ----------
const tfTopColors = ['#F4A23C','#F7BD5C','#F7BD5C','#F7BD5C','#F9D384','#F9D384','#F9D384','#F9D384','#FBE2A6',
  '#FDEFC8','#FDEFC8','#FDEFC8','#FDEFC8','#FDEFC8','#FDEFC8','#FDEFC8','#FDEFC8','#FDEFC8'];
const tfBotColors = ['#F6B955','#F9D384','#F9D384','#F9D384','#F9D384','#F9D384','#FCE5AB','#FCE5AB','#FCE5AB',
  '#FEF3D0','#FEF3D0','#FEF3D0','#FEF3D0','#FEF3D0','#FEF3D0','#FEF3D0','#FEF3D0','#FEF3D0','#FEF3D0'];
function tfChart(box, plot, names, vals, colors, xmax, xt, grid) {
  place(box, plot, {
    type: 'bar',
    data: { labels: names.map(n => 'Regulated by: ' + n), datasets: [{
      data: vals, backgroundColor: colors, borderColor: '#8A8A8A', borderWidth: 0.7,
      barPercentage: 0.8, categoryPercentage: 1.0 }] },
    options: {
      indexAxis: 'y',
      scales: {
        x: linAxis(0, xmax, xt, { size: 4.5, color: '#666', tickLen: 2, tickColor: '#aaa', axisLine: false, pad: 1 }),
        y: { type: 'category', position: 'right', offset: true, grid: { display: false, drawTicks: false },
          border: { display: false }, ticks: { autoSkip: false, padding: 2, color: '#333', font: { size: 5 } } }
      }
    },
    plugins: [panelPlugin({ vlines: grid, refColor: '#A0A0A0', refWidth: 0.8, frame: '#A0A0A0', frameWidth: 0.8 })]
  });
}
tfChart([445, 440, 264, 135], [453.3, 446.7, 624, 563.3], tfTopNames, tfTopVals, tfTopColors, 8.28,
  [0, 1, 2, 3, 4, 5, 6, 7, 8], [2, 4, 6]);
tfChart([445, 605, 264, 140], [453.3, 610, 626, 736.7], tfBotNames, tfBotVals, tfBotColors, 5.82,
  [0, 1, 2, 3, 4, 5], [2, 4]);
txt('Old_WT vs Young_WT', 541, 433, { size: 16.5 });
txt('Old_WT vs Old_<i>COX7RP</i>-Tg', 566, 600, { size: 16.5 });
txt('-log10(P)', 533, 578, { size: 4.5, color: '#555' });
txt('-log10(P)', 538, 750, { size: 4.5, color: '#555' });

// ---------- (e) GO dot plots ----------
function goChart(box, plot, terms, ratios, counts, padj, padjMax, xr, majors, minors, fmt) {
  const cmin = Math.min(...counts), cmax = Math.max(...counts);
  const rad = c => Math.sqrt(1.35 * 1.35 + (3.4 * 3.4 - 1.35 * 1.35) * (c - cmin) / (cmax - cmin));
  place(box, plot, {
    type: 'bubble',
    data: { datasets: [{
      data: terms.map((_, i) => ({ x: ratios[i], y: i, r: rad(counts[i]) })),
      backgroundColor: padj.map(p => ramp(redBlue, p / padjMax)), borderWidth: 0, clip: false }] },
    options: { scales: {
      x: linAxis(xr[0], xr[1], majors, { size: 5, fmt, gridColor: '#E6E6E6', gridWidth: 0.8, axisLine: false,
        tickLen: 2, tickColor: '#444', pad: 1 }),
      y: linAxis(-0.6, 9.55, terms.map((_, i) => i), { hideLabels: true, reverse: true, gridColor: '#E6E6E6',
        gridWidth: 0.8, axisLine: false, tickLen: 2, tickColor: '#444' })
    } },
    plugins: [panelPlugin({ minorX: minors, minorColor: '#F0F0F0', minorWidth: 0.5, frame: '#8C8C8C', frameWidth: 0.8 }),
      rowLabelPlugin(terms, 9.5, 0.73, 4, '#222')]
  });
}
goChart([0, 775, 330, 222], [145.7, 783.3, 320, 978.3], goLeftTerms, goLeftRatio, goLeftCount, goLeftPadj, 6.1e-10,
  [0.0246, 0.0654], [0.035, 0.045, 0.055, 0.065], [0.03, 0.04, 0.05, 0.06], v => v.toFixed(3));
goChart([335, 775, 340, 222], [519.3, 783.3, 669.3, 979], goRightTerms, goRightRatio, goRightCount, goRightPadj, 8.4e-12,
  [0.014, 0.06], [0.02, 0.03, 0.04, 0.05], [0.015, 0.025, 0.035, 0.045, 0.055], v => v.toFixed(2));
txt('Old_WT vs Young_WT', 142, 768, { size: 16.5 });
txt('Old_WT vs Old_<i>COX7RP</i>-Tg', 541, 768, { size: 16.5 });
txt('GeneRatio', 230, 991, { size: 5.5, color: '#333' });
txt('GeneRatio', 593, 991, { size: 5.5, color: '#333' });

const gradRB = 'background:linear-gradient(to bottom,#FF0000 0%,#BC0090 50%,#0000FF 100%)';
txt('Count', 325, 846, { size: 4.5, anchor: 'left', color: '#333' });
[['30', 853, 2.0], ['40', 860.7, 2.6], ['50', 867.7, 3.2]].forEach(([l, yy, r]) => {
  legendDot(330, yy, r, '#000');
  txt(l, 336, yy, { size: 4, anchor: 'left', color: '#333' });
});
txt('p.adjust', 325, 882.7, { size: 4.5, anchor: 'left', color: '#333' });
blob(326, 886, 6.7, 32.3, gradRB);
[['2e-10', 896.7], ['4e-10', 907.7], ['6e-10', 917.7]].forEach(([l, yy]) =>
  txt(l, 334.5, yy, { size: 4, anchor: 'left', color: '#333' }));

txt('Count', 675, 837, { size: 4.5, anchor: 'left', color: '#333' });
[['30', 845, 1.7], ['40', 852.3, 2.1], ['50', 859.3, 2.5], ['60', 866.7, 2.9], ['70', 875, 3.3]].forEach(([l, yy, r]) => {
  legendDot(680, yy, r, '#000');
  txt(l, 687, yy, { size: 4, anchor: 'left', color: '#333' });
});
txt('p.adjust', 675, 890, { size: 4.5, anchor: 'left', color: '#333' });
blob(675, 893.3, 6.7, 33.4, gradRB);
[['2e-12', 902.3], ['4e-12', 909.3], ['6e-12', 916.7], ['8e-12', 925]].forEach(([l, yy]) =>
  txt(l, 683.5, yy, { size: 4, anchor: 'left', color: '#333' }));
</script>
</body>
</html>
